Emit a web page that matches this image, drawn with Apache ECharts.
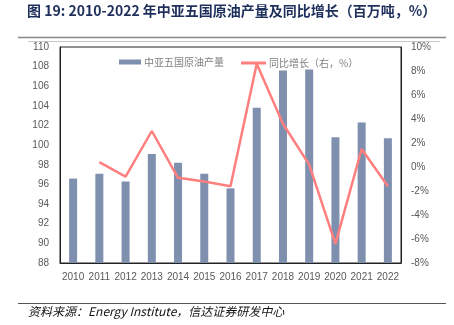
<!DOCTYPE html>
<html><head><meta charset="utf-8">
<script src="https://cdn.jsdelivr.net/npm/echarts@6/dist/echarts.min.js"></script>
<style>html,body{margin:0;padding:0;background:#fff}#c{width:454px;height:325px}</style>
</head><body><div id="c"></div>
<script>
var years = ['2010','2011','2012','2013','2014','2015','2016','2017','2018','2019','2020','2021','2022'];
var production = [96.6, 97.1, 96.3, 99.1, 98.2, 97.1, 95.6, 103.8, 107.6, 107.7, 100.8, 102.3, 100.7];
var growth = [null, 0.4, -0.8, 3.0, -0.9, -1.2, -1.6, 8.6, 3.6, 0.2, -6.4, 1.5, -1.6];
var leftTicks = [88, 110, 2];
var rightTicks = [-8, 10, 2];
var titleText = '图 19: 2010-2022 年中亚五国原油产量及同比增长（百万吨，%）';
var sourceText = '资料来源：Energy Institute，信达证券研发中心';
var seriesNames = ['中亚五国原油产量', '同比增长（右，%）'];

var chart = echarts.init(document.getElementById('c'));
var lbl = {color:'#595959', fontSize:10, fontFamily:'Liberation Sans, Arial, sans-serif'};
chart.setOption({
  animation:false,
  grid:{left:60, top:47, width:341, height:216, show:true, borderColor:'#222', borderWidth:1},
  legend:[
    {data:[{name:seriesNames[0], icon:'rect'}], left:114, top:52, itemWidth:22, itemHeight:5, itemGap:0,
     textStyle:{color:'#7f7f7f', fontSize:10, fontFamily:'Noto Sans CJK SC', padding:[0,0,0,-2]}},
    {data:[{name:seriesNames[1], icon:'rect'}], left:236, top:53, itemWidth:25, itemHeight:3, itemGap:0,
     textStyle:{color:'#7f7f7f', fontSize:10, fontFamily:'Noto Sans CJK SC', padding:[0,0,0,-2]}}
  ],
  xAxis:{type:'category', data:years, axisTick:{show:false},
    axisLine:{onZero:false, lineStyle:{color:'#222'}},
    axisLabel:Object.assign({margin:9, interval:0}, lbl)},
  yAxis:[
    {type:'value', min:leftTicks[0], max:leftTicks[1], interval:leftTicks[2], splitLine:{show:false},
     axisLine:{show:true, lineStyle:{color:'#222'}}, axisTick:{show:false},
     axisLabel:Object.assign({margin:11}, lbl)},
    {type:'value', min:rightTicks[0], max:rightTicks[1], interval:rightTicks[2], splitLine:{show:false},
     axisLine:{show:true, lineStyle:{color:'#222'}}, axisTick:{show:false},
     axisLabel:Object.assign({margin:10, formatter:'{value}%'}, lbl)}
  ],
  series:[
    {name:seriesNames[0], type:'bar', data:production, barWidth:8, itemStyle:{color:'#7f8fae'}},
    {name:seriesNames[1], type:'line', yAxisIndex:1, data:growth, symbol:'none', showSymbol:false,
     lineStyle:{color:'#ff7f7f', width:2.5}, itemStyle:{color:'#ff7f7f'}}
  ],
  graphic:[
    {type:'text', left:27, top:4, style:{text:titleText, fill:'#1f2f5c', font:'bold 14px "Noto Sans CJK SC", sans-serif'}},
    {type:'line', shape:{x1:18, y1:37.5, x2:446, y2:37.5}, style:{stroke:'#888', lineWidth:1.5}},
    {type:'line', shape:{x1:28, y1:41.5, x2:440, y2:41.5}, style:{stroke:'#c8c8c8', lineWidth:1}},
    {type:'line', shape:{x1:18, y1:303.5, x2:446, y2:303.5}, style:{stroke:'#555', lineWidth:1}},
    {type:'text', left:28, top:305, style:{text:sourceText, fill:'#111', font:'italic 12px "Noto Sans CJK SC", sans-serif'}}
  ]
});
</script></body></html>
